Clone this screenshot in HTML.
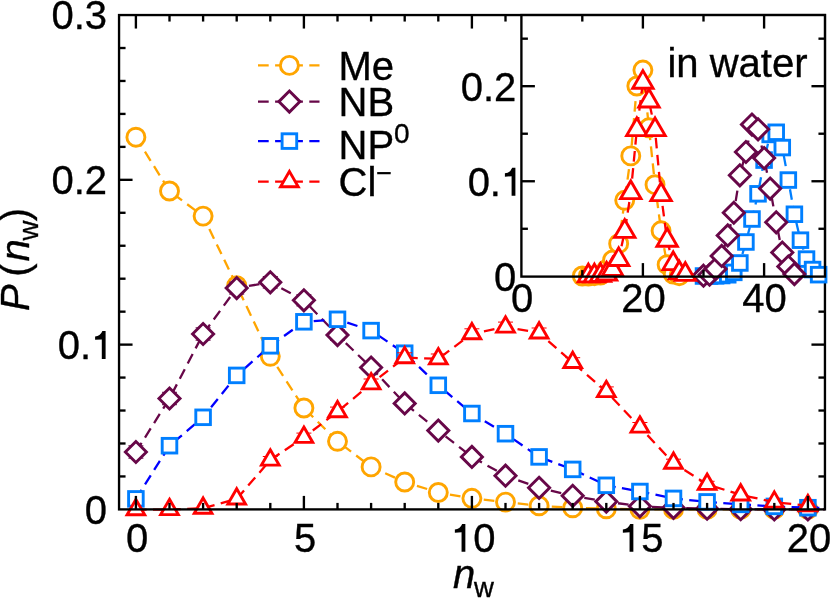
<!DOCTYPE html>
<html><head><meta charset="utf-8"><title>P(n_w)</title>
<style>html,body{margin:0;padding:0;background:#fff;}body{width:830px;height:598px;overflow:hidden;font-family:"Liberation Sans",sans-serif;}svg{display:block;will-change:transform;}</style></head>
<body>
<svg width="830" height="598" viewBox="0 0 830 598" font-family="'Liberation Sans', sans-serif" font-size="40" fill="#000">
<style>text{stroke:#000;stroke-width:0.35px;}</style>
<rect width="830" height="598" fill="#fff"/>
<defs><clipPath id="mclip"><rect x="119.05" y="0" width="705.9" height="598"/></clipPath></defs>
<polyline points="135.9,137.2 169.5,191 203.1,216.1 236.7,285.6 270.3,356.3 303.9,408 337.5,441.3 371.1,466.9 404.7,482 438.3,492.5 471.9,498.3 505.5,502.1 539.1,505.8 572.7,507.8 606.3,508.8 639.9,509.3 673.5,509.4 707.1,509.4 740.7,509.4 774.3,509.4 807.9,509.4 841.5,509.4" fill="none" stroke="#ffa500" stroke-width="2.3" stroke-dasharray="10.7 6.4" clip-path="url(#mclip)"/>
<g fill="#fff" stroke-width="2.9" stroke-linejoin="miter">
<circle cx="135.9" cy="137.2" r="9" stroke="#ffa500"/>
<circle cx="169.5" cy="191" r="9" stroke="#ffa500"/>
<circle cx="203.1" cy="216.1" r="9" stroke="#ffa500"/>
<circle cx="236.7" cy="285.6" r="9" stroke="#ffa500"/>
<circle cx="270.3" cy="356.3" r="9" stroke="#ffa500"/>
<circle cx="303.9" cy="408" r="9" stroke="#ffa500"/>
<circle cx="337.5" cy="441.3" r="9" stroke="#ffa500"/>
<circle cx="371.1" cy="466.9" r="9" stroke="#ffa500"/>
<circle cx="404.7" cy="482" r="9" stroke="#ffa500"/>
<circle cx="438.3" cy="492.5" r="9" stroke="#ffa500"/>
<circle cx="471.9" cy="498.3" r="9" stroke="#ffa500"/>
<circle cx="505.5" cy="502.1" r="9" stroke="#ffa500"/>
<circle cx="539.1" cy="505.8" r="9" stroke="#ffa500"/>
<circle cx="572.7" cy="507.8" r="9" stroke="#ffa500"/>
<circle cx="606.3" cy="508.8" r="9" stroke="#ffa500"/>
<circle cx="639.9" cy="509.3" r="9" stroke="#ffa500"/>
<circle cx="673.5" cy="509.4" r="9" stroke="#ffa500"/>
<circle cx="707.1" cy="509.4" r="9" stroke="#ffa500"/>
<circle cx="740.7" cy="509.4" r="9" stroke="#ffa500"/>
<circle cx="774.3" cy="509.4" r="9" stroke="#ffa500"/>
<circle cx="807.9" cy="509.4" r="9" stroke="#ffa500"/>
</g>
<g stroke="#670748" stroke-width="1" fill="none">
<path d="M128.4 445.8H143.4M128.4 458.2H143.4M135.9 445.8V458.2"/>
<path d="M162 392.3H177M162 404.7H177M169.5 392.3V404.7"/>
<path d="M195.6 327.8H210.6M195.6 340.2H210.6M203.1 327.8V340.2"/>
<path d="M229.2 282.1H244.2M229.2 294.1H244.2M236.7 282.1V294.1"/>
<path d="M262.8 276.5H277.8M262.8 288.1H277.8M270.3 276.5V288.1"/>
<path d="M296.4 294.7H311.4M296.4 305.9H311.4M303.9 294.7V305.9"/>
<path d="M330 329.9H345M330 340.3H345M337.5 329.9V340.3"/>
</g>
<polyline points="135.9,452 169.5,398.5 203.1,334 236.7,288.1 270.3,282.3 303.9,300.3 337.5,335.1 371.1,367.5 404.7,403.4 438.3,430.6 471.9,456.9 505.5,475.7 539.1,487.8 572.7,495.8 606.3,501.6 639.9,506.3 673.5,507.8 707.1,508.7 740.7,509.2 774.3,509.4 807.9,509.4 841.5,509.4" fill="none" stroke="#670748" stroke-width="2.3" stroke-dasharray="10.7 6.4" clip-path="url(#mclip)"/>
<g fill="#fff" stroke-width="2.9" stroke-linejoin="miter">
<path d="M135.9 441.45L146.45 452L135.9 462.55L125.35 452Z" stroke="#670748"/>
<path d="M169.5 387.95L180.05 398.5L169.5 409.05L158.95 398.5Z" stroke="#670748"/>
<path d="M203.1 323.45L213.65 334L203.1 344.55L192.55 334Z" stroke="#670748"/>
<path d="M236.7 277.55L247.25 288.1L236.7 298.65L226.15 288.1Z" stroke="#670748"/>
<path d="M270.3 271.75L280.85 282.3L270.3 292.85L259.75 282.3Z" stroke="#670748"/>
<path d="M303.9 289.75L314.45 300.3L303.9 310.85L293.35 300.3Z" stroke="#670748"/>
<path d="M337.5 324.55L348.05 335.1L337.5 345.65L326.95 335.1Z" stroke="#670748"/>
<path d="M371.1 356.95L381.65 367.5L371.1 378.05L360.55 367.5Z" stroke="#670748"/>
<path d="M404.7 392.85L415.25 403.4L404.7 413.95L394.15 403.4Z" stroke="#670748"/>
<path d="M438.3 420.05L448.85 430.6L438.3 441.15L427.75 430.6Z" stroke="#670748"/>
<path d="M471.9 446.35L482.45 456.9L471.9 467.45L461.35 456.9Z" stroke="#670748"/>
<path d="M505.5 465.15L516.05 475.7L505.5 486.25L494.95 475.7Z" stroke="#670748"/>
<path d="M539.1 477.25L549.65 487.8L539.1 498.35L528.55 487.8Z" stroke="#670748"/>
<path d="M572.7 485.25L583.25 495.8L572.7 506.35L562.15 495.8Z" stroke="#670748"/>
<path d="M606.3 491.05L616.85 501.6L606.3 512.15L595.75 501.6Z" stroke="#670748"/>
<path d="M639.9 495.75L650.45 506.3L639.9 516.85L629.35 506.3Z" stroke="#670748"/>
<path d="M673.5 497.25L684.05 507.8L673.5 518.35L662.95 507.8Z" stroke="#670748"/>
<path d="M707.1 498.15L717.65 508.7L707.1 519.25L696.55 508.7Z" stroke="#670748"/>
<path d="M740.7 498.65L751.25 509.2L740.7 519.75L730.15 509.2Z" stroke="#670748"/>
<path d="M774.3 498.85L784.85 509.4L774.3 519.95L763.75 509.4Z" stroke="#670748"/>
<path d="M807.9 498.85L818.45 509.4L807.9 519.95L797.35 509.4Z" stroke="#670748"/>
</g>
<polyline points="135.9,498.9 169.5,445.7 203.1,417.3 236.7,375.4 270.3,345.8 303.9,321.8 337.5,319.3 371.1,330.6 404.7,353.2 438.3,385.3 471.9,413.5 505.5,433.7 539.1,456.9 572.7,469.4 606.3,485.3 639.9,491.5 673.5,498.4 707.1,501.9 740.7,504.4 774.3,506.4 807.9,507.7 841.5,508.4" fill="none" stroke="#0000ff" stroke-width="2.3" stroke-dasharray="10.7 6.4" clip-path="url(#mclip)"/>
<g fill="#fff" stroke-width="2.9" stroke-linejoin="miter">
<rect x="128.6" y="491.6" width="14.6" height="14.6" stroke="#007fff"/>
<rect x="162.2" y="438.4" width="14.6" height="14.6" stroke="#007fff"/>
<rect x="195.8" y="410" width="14.6" height="14.6" stroke="#007fff"/>
<rect x="229.4" y="368.1" width="14.6" height="14.6" stroke="#007fff"/>
<rect x="263" y="338.5" width="14.6" height="14.6" stroke="#007fff"/>
<rect x="296.6" y="314.5" width="14.6" height="14.6" stroke="#007fff"/>
<rect x="330.2" y="312" width="14.6" height="14.6" stroke="#007fff"/>
<rect x="363.8" y="323.3" width="14.6" height="14.6" stroke="#007fff"/>
<rect x="397.4" y="345.9" width="14.6" height="14.6" stroke="#007fff"/>
<rect x="431" y="378" width="14.6" height="14.6" stroke="#007fff"/>
<rect x="464.6" y="406.2" width="14.6" height="14.6" stroke="#007fff"/>
<rect x="498.2" y="426.4" width="14.6" height="14.6" stroke="#007fff"/>
<rect x="531.8" y="449.6" width="14.6" height="14.6" stroke="#007fff"/>
<rect x="565.4" y="462.1" width="14.6" height="14.6" stroke="#007fff"/>
<rect x="599" y="478" width="14.6" height="14.6" stroke="#007fff"/>
<rect x="632.6" y="484.2" width="14.6" height="14.6" stroke="#007fff"/>
<rect x="666.2" y="491.1" width="14.6" height="14.6" stroke="#007fff"/>
<rect x="699.8" y="494.6" width="14.6" height="14.6" stroke="#007fff"/>
<rect x="733.4" y="497.1" width="14.6" height="14.6" stroke="#007fff"/>
<rect x="767" y="499.1" width="14.6" height="14.6" stroke="#007fff"/>
<rect x="800.6" y="500.4" width="14.6" height="14.6" stroke="#007fff"/>
</g>
<g stroke="#ff0000" stroke-width="1" fill="none">
<path d="M262.8 456.5H277.8M262.8 463.5H277.8M270.3 456.5V463.5"/>
<path d="M296.4 433.1H311.4M296.4 441.5H311.4M303.9 433.1V441.5"/>
<path d="M330 407.1H345M330 416.3H345M337.5 407.1V416.3"/>
<path d="M363.6 379H378.6M363.6 388.6H378.6M371.1 379V388.6"/>
<path d="M397.2 352.8H412.2M397.2 362.4H412.2M404.7 352.8V362.4"/>
<path d="M430.8 354H445.8M430.8 363.6H445.8M438.3 354V363.6"/>
<path d="M464.4 328.8H479.4M464.4 338.6H479.4M471.9 328.8V338.6"/>
<path d="M498 322.1H513M498 331.9H513M505.5 322.1V331.9"/>
<path d="M531.6 328H546.6M531.6 337.8H546.6M539.1 328V337.8"/>
<path d="M565.2 357.7H580.2M565.2 367.1H580.2M572.7 357.7V367.1"/>
<path d="M598.8 386.9H613.8M598.8 396.1H613.8M606.3 386.9V396.1"/>
<path d="M632.4 422.5H647.4M632.4 431.5H647.4M639.9 422.5V431.5"/>
<path d="M666 459.2H681M666 467.2H681M673.5 459.2V467.2"/>
<path d="M699.6 481.3H714.6M699.6 487.3H714.6M707.1 481.3V487.3"/>
</g>
<polyline points="135.9,509.7 169.5,509.5 203.1,508.2 236.7,498.9 270.3,460 303.9,437.3 337.5,411.7 371.1,383.8 404.7,357.6 438.3,358.8 471.9,333.7 505.5,327 539.1,332.9 572.7,362.4 606.3,391.5 639.9,427 673.5,463.2 707.1,484.3 740.7,494.9 774.3,502.1 807.9,505.7" fill="none" stroke="#ff0000" stroke-width="2.3" stroke-dasharray="10.7 6.4"/>
<g fill="#fff" stroke-width="2.9" stroke-linejoin="miter">
<path d="M135.9 499.48L144.75 514.81L127.05 514.81Z" stroke="#ff0000"/>
<path d="M169.5 499.28L178.35 514.61L160.65 514.61Z" stroke="#ff0000"/>
<path d="M203.1 497.98L211.95 513.31L194.25 513.31Z" stroke="#ff0000"/>
<path d="M236.7 488.68L245.55 504.01L227.85 504.01Z" stroke="#ff0000"/>
<path d="M270.3 449.78L279.15 465.11L261.45 465.11Z" stroke="#ff0000"/>
<path d="M303.9 427.08L312.75 442.41L295.05 442.41Z" stroke="#ff0000"/>
<path d="M337.5 401.48L346.35 416.81L328.65 416.81Z" stroke="#ff0000"/>
<path d="M371.1 373.58L379.95 388.91L362.25 388.91Z" stroke="#ff0000"/>
<path d="M404.7 347.38L413.55 362.71L395.85 362.71Z" stroke="#ff0000"/>
<path d="M438.3 348.58L447.15 363.91L429.45 363.91Z" stroke="#ff0000"/>
<path d="M471.9 323.48L480.75 338.81L463.05 338.81Z" stroke="#ff0000"/>
<path d="M505.5 316.78L514.35 332.11L496.65 332.11Z" stroke="#ff0000"/>
<path d="M539.1 322.68L547.95 338.01L530.25 338.01Z" stroke="#ff0000"/>
<path d="M572.7 352.18L581.55 367.51L563.85 367.51Z" stroke="#ff0000"/>
<path d="M606.3 381.28L615.15 396.61L597.45 396.61Z" stroke="#ff0000"/>
<path d="M639.9 416.78L648.75 432.11L631.05 432.11Z" stroke="#ff0000"/>
<path d="M673.5 452.98L682.35 468.31L664.65 468.31Z" stroke="#ff0000"/>
<path d="M707.1 474.08L715.95 489.41L698.25 489.41Z" stroke="#ff0000"/>
<path d="M740.7 484.68L749.55 500.01L731.85 500.01Z" stroke="#ff0000"/>
<path d="M774.3 491.88L783.15 507.21L765.45 507.21Z" stroke="#ff0000"/>
<path d="M807.9 495.48L816.75 510.81L799.05 510.81Z" stroke="#ff0000"/>
</g>
<g stroke="#000" stroke-width="2.35" fill="none" stroke-linecap="butt">
<rect x="119.05" y="15.05" width="705.9" height="494.35"/>
<path d="M135.9 509.4L135.9 495.9"/>
<path d="M135.9 15.05L135.9 28.55"/>
<path d="M169.5 509.4L169.5 502.9"/>
<path d="M169.5 15.05L169.5 21.55"/>
<path d="M203.1 509.4L203.1 502.9"/>
<path d="M203.1 15.05L203.1 21.55"/>
<path d="M236.7 509.4L236.7 502.9"/>
<path d="M236.7 15.05L236.7 21.55"/>
<path d="M270.3 509.4L270.3 502.9"/>
<path d="M270.3 15.05L270.3 21.55"/>
<path d="M303.9 509.4L303.9 495.9"/>
<path d="M303.9 15.05L303.9 28.55"/>
<path d="M337.5 509.4L337.5 502.9"/>
<path d="M337.5 15.05L337.5 21.55"/>
<path d="M371.1 509.4L371.1 502.9"/>
<path d="M371.1 15.05L371.1 21.55"/>
<path d="M404.7 509.4L404.7 502.9"/>
<path d="M404.7 15.05L404.7 21.55"/>
<path d="M438.3 509.4L438.3 502.9"/>
<path d="M438.3 15.05L438.3 21.55"/>
<path d="M471.9 509.4L471.9 495.9"/>
<path d="M471.9 15.05L471.9 28.55"/>
<path d="M505.5 509.4L505.5 502.9"/>
<path d="M505.5 15.05L505.5 21.55"/>
<path d="M539.1 509.4L539.1 502.9"/>
<path d="M572.7 509.4L572.7 502.9"/>
<path d="M606.3 509.4L606.3 502.9"/>
<path d="M639.9 509.4L639.9 495.9"/>
<path d="M673.5 509.4L673.5 502.9"/>
<path d="M707.1 509.4L707.1 502.9"/>
<path d="M740.7 509.4L740.7 502.9"/>
<path d="M774.3 509.4L774.3 502.9"/>
<path d="M807.9 509.4L807.9 495.9"/>
<path d="M119.05 476.44L125.55 476.44"/>
<path d="M824.95 476.44L818.45 476.44"/>
<path d="M119.05 443.49L125.55 443.49"/>
<path d="M824.95 443.49L818.45 443.49"/>
<path d="M119.05 410.53L125.55 410.53"/>
<path d="M824.95 410.53L818.45 410.53"/>
<path d="M119.05 377.57L125.55 377.57"/>
<path d="M824.95 377.57L818.45 377.57"/>
<path d="M119.05 344.62L132.55 344.62"/>
<path d="M824.95 344.62L811.45 344.62"/>
<path d="M119.05 311.66L125.55 311.66"/>
<path d="M824.95 311.66L818.45 311.66"/>
<path d="M119.05 278.7L125.55 278.7"/>
<path d="M824.95 278.7L818.45 278.7"/>
<path d="M119.05 245.75L125.55 245.75"/>
<path d="M119.05 212.79L125.55 212.79"/>
<path d="M119.05 179.83L132.55 179.83"/>
<path d="M119.05 146.88L125.55 146.88"/>
<path d="M119.05 113.92L125.55 113.92"/>
<path d="M119.05 80.96L125.55 80.96"/>
<path d="M119.05 48.01L125.55 48.01"/>
</g>
<g>
<text x="137.1" y="551.8" text-anchor="middle">0</text>
<text x="305.1" y="551.8" text-anchor="middle">5</text>
<text x="809.1" y="551.8" text-anchor="middle">20</text>
<path d="M465.36 523.9L465.36 551.8L461.56 551.8L461.56 532.3L454.86 532.7L454.86 529.4Q459.96 529.3 462.16 523.9Z"/>
<text x="473.2" y="551.8">0</text>
<path d="M633.36 523.9L633.36 551.8L629.56 551.8L629.56 532.3L622.86 532.7L622.86 529.4Q627.96 529.3 630.16 523.9Z"/>
<text x="641.2" y="551.8">5</text>
<text x="107" y="523.7" text-anchor="end">0</text>
<text x="107" y="194.13" text-anchor="end">0.2</text>
<text x="107" y="29.35" text-anchor="end">0.3</text>
<path d="M105.6 331.02L105.6 358.92L101.8 358.92L101.8 339.42L95.1 339.82L95.1 336.52Q100.2 336.42 102.4 331.02Z"/>
<text x="57.84" y="358.92">0.</text>
</g>
<text x="453" y="587.7"><tspan font-style="italic">n</tspan><tspan font-size="27.5" dy="9.2" dx="-1.3">w</tspan></text>
<text transform="translate(29.1,311) rotate(-90)"><tspan x="0" font-style="italic">P</tspan><tspan x="34.2">(</tspan><tspan x="49.6" font-style="italic">n</tspan><tspan x="70.4" font-size="27.5" dy="9.2">w</tspan><tspan x="89.8" dy="-9.2">)</tspan></text>
<path d="M258.0 65.4L319.5 65.4" fill="none" stroke="#ffa500" stroke-width="2.3" stroke-dasharray="10.7 6.4"/>
<g fill="#fff" stroke-width="2.9"><circle cx="289.4" cy="65.4" r="9" stroke="#ffa500"/></g>
<path d="M258.0 101.6L319.5 101.6" fill="none" stroke="#670748" stroke-width="2.3" stroke-dasharray="10.7 6.4"/>
<g fill="#fff" stroke-width="2.9"><path d="M289.4 91.05L299.95 101.6L289.4 112.15L278.85 101.6Z" stroke="#670748"/></g>
<path d="M258.0 141.1L319.5 141.1" fill="none" stroke="#0000ff" stroke-width="2.3" stroke-dasharray="10.7 6.4"/>
<g fill="#fff" stroke-width="2.9"><rect x="282.1" y="133.8" width="14.6" height="14.6" stroke="#007fff"/></g>
<path d="M258.0 181.6L319.5 181.6" fill="none" stroke="#ff0000" stroke-width="2.3" stroke-dasharray="10.7 6.4"/>
<g fill="#fff" stroke-width="2.9"><path d="M289.4 171.38L298.25 186.71L280.55 186.71Z" stroke="#ff0000"/></g>
<text x="338.5" y="79.5">Me</text>
<text x="338.5" y="115.9">NB</text>
<text x="338.5" y="159.3">NP<tspan font-size="28" dy="-16.1">0</tspan></text>
<text x="338.5" y="196.1">Cl<tspan font-size="27" dy="-13.9">−</tspan></text>
<rect x="521.4" y="15.05" width="303.55" height="261.55" fill="#fff"/>
<polyline points="582.3,276 588.36,276 594.42,275.71 600.48,275.05 606.54,269.44 612.6,260.04 618.66,243.7 624.72,200.29 630.78,155.92 636.84,86 642.9,70.04 648.96,127.8 655.02,184.7 661.08,230.78 667.14,264.69 673.2,274.1 679.26,275.71" fill="none" stroke="#ffa500" stroke-width="2.3" stroke-dasharray="10.7 6.4"/>
<g fill="#fff" stroke-width="2.9" stroke-linejoin="miter">
<circle cx="582.3" cy="276" r="9" stroke="#ffa500"/>
<circle cx="588.36" cy="276" r="9" stroke="#ffa500"/>
<circle cx="594.42" cy="275.71" r="9" stroke="#ffa500"/>
<circle cx="600.48" cy="275.05" r="9" stroke="#ffa500"/>
<circle cx="606.54" cy="269.44" r="9" stroke="#ffa500"/>
<circle cx="612.6" cy="260.04" r="9" stroke="#ffa500"/>
<circle cx="618.66" cy="243.7" r="9" stroke="#ffa500"/>
<circle cx="624.72" cy="200.29" r="9" stroke="#ffa500"/>
<circle cx="630.78" cy="155.92" r="9" stroke="#ffa500"/>
<circle cx="636.84" cy="86" r="9" stroke="#ffa500"/>
<circle cx="642.9" cy="70.04" r="9" stroke="#ffa500"/>
<circle cx="648.96" cy="127.8" r="9" stroke="#ffa500"/>
<circle cx="655.02" cy="184.7" r="9" stroke="#ffa500"/>
<circle cx="661.08" cy="230.78" r="9" stroke="#ffa500"/>
<circle cx="667.14" cy="264.69" r="9" stroke="#ffa500"/>
<circle cx="673.2" cy="274.1" r="9" stroke="#ffa500"/>
<circle cx="679.26" cy="275.71" r="9" stroke="#ffa500"/>
</g>
<polyline points="703.5,276 709.56,276 715.62,275.81 721.68,275.52 727.74,274.76 733.8,272.39 739.86,262.99 745.92,241.99 751.98,219 758.04,193.82 764.1,160.1 770.16,134.45 776.22,132.27 782.28,147.56 788.34,180.05 794.4,214.25 800.46,240.19 806.52,259.09 812.58,269.54 818.64,274.67" fill="none" stroke="#007fff" stroke-width="2.3" stroke-dasharray="10.7 6.4"/>
<g fill="#fff" stroke-width="2.9" stroke-linejoin="miter">
<rect x="696.2" y="268.7" width="14.6" height="14.6" stroke="#007fff"/>
<rect x="702.26" y="268.7" width="14.6" height="14.6" stroke="#007fff"/>
<rect x="708.32" y="268.51" width="14.6" height="14.6" stroke="#007fff"/>
<rect x="714.38" y="268.22" width="14.6" height="14.6" stroke="#007fff"/>
<rect x="720.44" y="267.46" width="14.6" height="14.6" stroke="#007fff"/>
<rect x="726.5" y="265.09" width="14.6" height="14.6" stroke="#007fff"/>
<rect x="732.56" y="255.69" width="14.6" height="14.6" stroke="#007fff"/>
<rect x="738.62" y="234.69" width="14.6" height="14.6" stroke="#007fff"/>
<rect x="744.68" y="211.7" width="14.6" height="14.6" stroke="#007fff"/>
<rect x="750.74" y="186.52" width="14.6" height="14.6" stroke="#007fff"/>
<rect x="756.8" y="152.8" width="14.6" height="14.6" stroke="#007fff"/>
<rect x="762.86" y="127.15" width="14.6" height="14.6" stroke="#007fff"/>
<rect x="768.92" y="124.97" width="14.6" height="14.6" stroke="#007fff"/>
<rect x="774.98" y="140.26" width="14.6" height="14.6" stroke="#007fff"/>
<rect x="781.04" y="172.75" width="14.6" height="14.6" stroke="#007fff"/>
<rect x="787.1" y="206.95" width="14.6" height="14.6" stroke="#007fff"/>
<rect x="793.16" y="232.88" width="14.6" height="14.6" stroke="#007fff"/>
<rect x="799.22" y="251.79" width="14.6" height="14.6" stroke="#007fff"/>
<rect x="805.28" y="262.24" width="14.6" height="14.6" stroke="#007fff"/>
<rect x="811.34" y="267.37" width="14.6" height="14.6" stroke="#007fff"/>
</g>
<polyline points="703.5,275.71 709.56,274.76 715.62,268.88 721.68,255.95 727.74,235.44 733.8,212.73 739.86,175.3 745.92,152.02 751.98,124.57 758.04,129.32 764.1,158.11 770.16,188.6 776.22,222.32 782.28,252.53 788.34,266.5 794.4,274.1" fill="none" stroke="#670748" stroke-width="2.3" stroke-dasharray="10.7 6.4"/>
<g fill="#fff" stroke-width="2.9" stroke-linejoin="miter">
<path d="M703.5 265.16L714.05 275.71L703.5 286.26L692.95 275.71Z" stroke="#670748"/>
<path d="M709.56 264.21L720.11 274.76L709.56 285.31L699.01 274.76Z" stroke="#670748"/>
<path d="M715.62 258.32L726.17 268.88L715.62 279.43L705.07 268.88Z" stroke="#670748"/>
<path d="M721.68 245.4L732.23 255.95L721.68 266.5L711.13 255.95Z" stroke="#670748"/>
<path d="M727.74 224.88L738.29 235.44L727.74 245.99L717.19 235.44Z" stroke="#670748"/>
<path d="M733.8 202.18L744.35 212.73L733.8 223.28L723.25 212.73Z" stroke="#670748"/>
<path d="M739.86 164.75L750.41 175.3L739.86 185.85L729.31 175.3Z" stroke="#670748"/>
<path d="M745.92 141.47L756.47 152.02L745.92 162.57L735.37 152.02Z" stroke="#670748"/>
<path d="M751.98 114.02L762.53 124.57L751.98 135.12L741.43 124.57Z" stroke="#670748"/>
<path d="M758.04 118.77L768.59 129.32L758.04 139.87L747.49 129.32Z" stroke="#670748"/>
<path d="M764.1 147.56L774.65 158.11L764.1 168.66L753.55 158.11Z" stroke="#670748"/>
<path d="M770.16 178.05L780.71 188.6L770.16 199.15L759.61 188.6Z" stroke="#670748"/>
<path d="M776.22 211.77L786.77 222.32L776.22 232.88L765.67 222.32Z" stroke="#670748"/>
<path d="M782.28 241.98L792.83 252.53L782.28 263.08L771.73 252.53Z" stroke="#670748"/>
<path d="M788.34 255.95L798.89 266.5L788.34 277.05L777.79 266.5Z" stroke="#670748"/>
<path d="M794.4 263.55L804.95 274.1L794.4 284.65L783.85 274.1Z" stroke="#670748"/>
</g>
<polyline points="588.36,276 594.42,276 600.48,275.52 606.54,274.1 612.6,269.54 618.66,259.66 624.72,231.44 630.78,192.78 636.84,129.7 642.9,82.39 648.96,101.1 655.02,129.7 661.08,194.77 667.14,240.38 673.2,263.75 679.26,272.96 685.32,274.48" fill="none" stroke="#ff0000" stroke-width="2.3" stroke-dasharray="10.7 6.4"/>
<g fill="#fff" stroke-width="2.9" stroke-linejoin="miter">
<path d="M588.36 264.22L598.56 281.89L578.16 281.89Z" stroke="#ff0000"/>
<path d="M594.42 264.22L604.62 281.89L584.22 281.89Z" stroke="#ff0000"/>
<path d="M600.48 263.75L610.68 281.41L590.28 281.41Z" stroke="#ff0000"/>
<path d="M606.54 262.32L616.74 279.99L596.34 279.99Z" stroke="#ff0000"/>
<path d="M612.6 257.76L622.8 275.43L602.4 275.43Z" stroke="#ff0000"/>
<path d="M618.66 247.88L628.86 265.55L608.46 265.55Z" stroke="#ff0000"/>
<path d="M624.72 219.67L634.92 237.33L614.52 237.33Z" stroke="#ff0000"/>
<path d="M630.78 181L640.98 198.67L620.58 198.67Z" stroke="#ff0000"/>
<path d="M636.84 117.92L647.04 135.59L626.64 135.59Z" stroke="#ff0000"/>
<path d="M642.9 70.61L653.1 88.28L632.7 88.28Z" stroke="#ff0000"/>
<path d="M648.96 89.33L659.16 106.99L638.76 106.99Z" stroke="#ff0000"/>
<path d="M655.02 117.92L665.22 135.59L644.82 135.59Z" stroke="#ff0000"/>
<path d="M661.08 183L671.28 200.66L650.88 200.66Z" stroke="#ff0000"/>
<path d="M667.14 228.6L677.34 246.26L656.94 246.26Z" stroke="#ff0000"/>
<path d="M673.2 251.97L683.4 269.63L663 269.63Z" stroke="#ff0000"/>
<path d="M679.26 261.18L689.46 278.85L669.06 278.85Z" stroke="#ff0000"/>
<path d="M685.32 262.7L695.52 280.37L675.12 280.37Z" stroke="#ff0000"/>
</g>
<g stroke="#000" stroke-width="2.35" fill="none">
<rect x="521.4" y="15.05" width="303.55" height="261.55"/>
<path d="M582.3 276.6L582.3 270.1"/>
<path d="M582.3 15.05L582.3 21.55"/>
<path d="M642.9 276.6L642.9 263.1"/>
<path d="M642.9 15.05L642.9 28.55"/>
<path d="M703.5 276.6L703.5 270.1"/>
<path d="M703.5 15.05L703.5 21.55"/>
<path d="M764.1 276.6L764.1 263.1"/>
<path d="M764.1 15.05L764.1 28.55"/>
<path d="M521.4 228.78L527.9 228.78"/>
<path d="M824.95 228.78L818.45 228.78"/>
<path d="M521.4 181.25L534.9 181.25"/>
<path d="M824.95 181.25L811.45 181.25"/>
<path d="M521.4 133.72L527.9 133.72"/>
<path d="M824.95 133.72L818.45 133.72"/>
<path d="M521.4 86.2L534.9 86.2"/>
<path d="M824.95 86.2L811.45 86.2"/>
<path d="M521.4 38.67L527.9 38.67"/>
<path d="M824.95 38.67L818.45 38.67"/>
</g>
<g>
<text x="522.2" y="311.9" text-anchor="middle">0</text>
<text x="643.4" y="311.9" text-anchor="middle">20</text>
<text x="764.6" y="311.9" text-anchor="middle">40</text>
<text x="516.3" y="290.8" text-anchor="end">0</text>
<text x="516.3" y="100.7" text-anchor="end">0.2</text>
<path d="M515.4 167.85L515.4 195.75L511.6 195.75L511.6 176.25L504.9 176.65L504.9 173.35Q510 173.25 512.2 167.85Z"/>
<text x="467.64" y="195.75">0.</text>
<text x="667.4" y="77">in water</text>
</g>
</svg>
</body></html>
